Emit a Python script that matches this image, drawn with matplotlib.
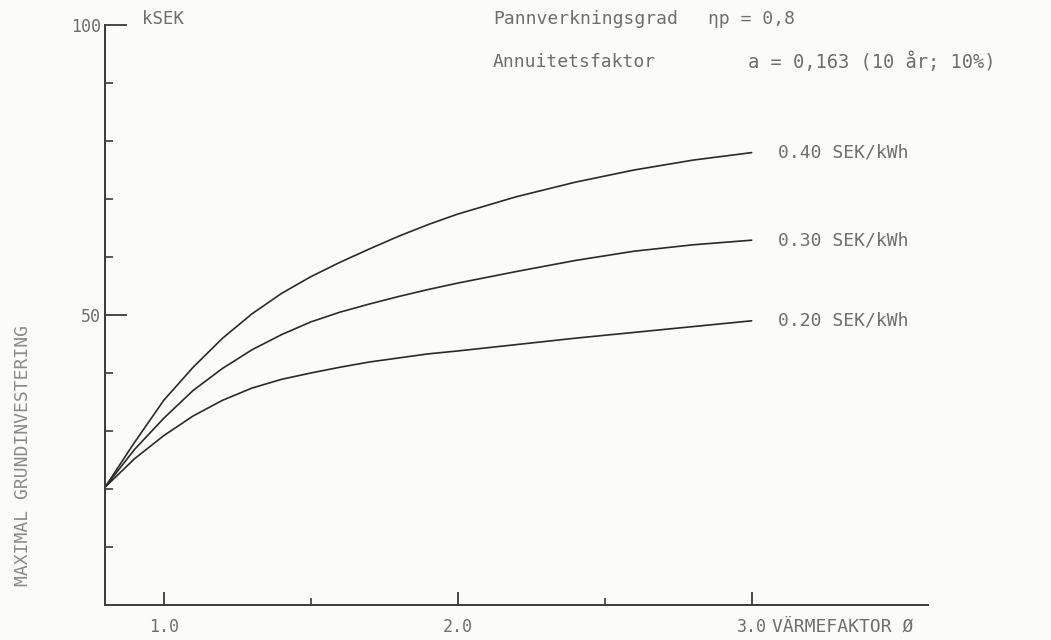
import matplotlib.pyplot as plt
from matplotlib.ticker import FixedLocator

# värmefaktor (x) and maximal grundinvestering in kSEK (y)
x_vf = [0.8, 0.9, 1.0, 1.1, 1.2, 1.3, 1.4, 1.5, 1.6, 1.7, 1.8, 1.9, 2.0,
        2.2, 2.4, 2.6, 2.8, 3.0]
y_040 = [20.3, 28.0, 35.3, 41.0, 46.0, 50.2, 53.7, 56.6, 59.1, 61.4, 63.6, 65.6, 67.4,
         70.4, 72.9, 75.0, 76.7, 78.0]
y_030 = [20.3, 26.8, 32.2, 37.0, 40.8, 44.0, 46.6, 48.8, 50.5, 51.9, 53.2, 54.4, 55.5,
         57.5, 59.4, 61.0, 62.1, 62.9]
y_020 = [20.3, 25.2, 29.2, 32.6, 35.3, 37.4, 38.9, 40.0, 41.0, 41.9, 42.6, 43.3, 43.8,
         44.9, 46.0, 47.0, 48.0, 49.0]

curve_labels = ['0.40 SEK/kWh', '0.30 SEK/kWh', '0.20 SEK/kWh']
x_major = [1.0, 2.0, 3.0]
x_major_labels = ['1.0', '2.0', '3.0']
x_minor = [1.5, 2.5]
y_major = [50, 100]
y_minor = [10, 20, 30, 40, 60, 70, 80, 90]

W, H = 1051, 640
txt = '#6e6e6e'
ink = '#2a2a2a'
mono = 'DejaVu Sans Mono'

fig = plt.figure(figsize=(W / 100, H / 100), dpi=100)
fig.patch.set_facecolor('#fbfbf9')
ax = fig.add_axes([105 / W, 35 / H, 823 / W, 580 / H])
ax.set_facecolor('none')

for ys in [y_040, y_030, y_020]:
    ax.plot(x_vf, ys, color=ink, lw=1.2, solid_capstyle='round')

ax.set_xlim(0.8, 3.6)
ax.set_ylim(0, 100)
for s in ['top', 'right']:
    ax.spines[s].set_visible(False)
for s in ['left', 'bottom']:
    ax.spines[s].set_color('#3a3a3a')
    ax.spines[s].set_linewidth(1.4)

ax.xaxis.set_major_locator(FixedLocator(x_major))
ax.xaxis.set_minor_locator(FixedLocator(x_minor))
ax.set_xticklabels(x_major_labels)
ax.yaxis.set_major_locator(FixedLocator(y_major))
ax.yaxis.set_minor_locator(FixedLocator(y_minor))
ax.set_yticklabels([str(v) for v in y_major])

ax.tick_params(axis='x', which='major', direction='in', length=9.5, width=1.3,
               color='#3a3a3a', labelcolor=txt, labelsize=12, pad=9)
ax.tick_params(axis='x', which='minor', direction='in', length=5, width=1.2, color='#3a3a3a')
ax.tick_params(axis='y', which='major', direction='in', length=16, width=1.3,
               color='#3a3a3a', labelcolor=txt, labelsize=12, pad=3)
ax.tick_params(axis='y', which='minor', direction='in', length=6, width=1.2, color='#3a3a3a')
for lab in ax.get_xticklabels() + ax.get_yticklabels():
    lab.set_family(mono)

# curve labels at the right end of each line
for lab, ys in zip(curve_labels, [y_040, y_030, y_020]):
    ax.text(3.09, ys[-1], lab, family=mono, fontsize=13, color=txt, va='center')

fig.text(142 / W, 1 - 19 / H, 'kSEK', family=mono, fontsize=12.5, color=txt, va='center')
fig.text(493 / W, 1 - 19 / H, 'Pannverkningsgrad', family=mono, fontsize=13, color=txt, va='center')
fig.text(708 / W, 1 - 19 / H, 'ηp = 0,8', family=mono, fontsize=13, color=txt, va='center')
fig.text(493 / W, 1 - 62 / H, 'Annuitetsfaktor', family=mono, fontsize=13, color=txt, va='center')
fig.text(748 / W, 1 - 62 / H, 'a = 0,163 (10 år; 10%)', family=mono, fontsize=13.5,
         color=txt, va='center')
fig.text(772 / W, 1 - 627 / H, 'VÄRMEFAKTOR Ø', family=mono, fontsize=13, color=txt, va='center')
fig.text(23 / W, 1 - 455 / H, 'MAXIMAL GRUNDINVESTERING', family=mono, fontsize=13,
         color='#8a8a8a', rotation=90, ha='center', va='center')

fig.savefig('out.png', dpi=100, facecolor=fig.get_facecolor())
